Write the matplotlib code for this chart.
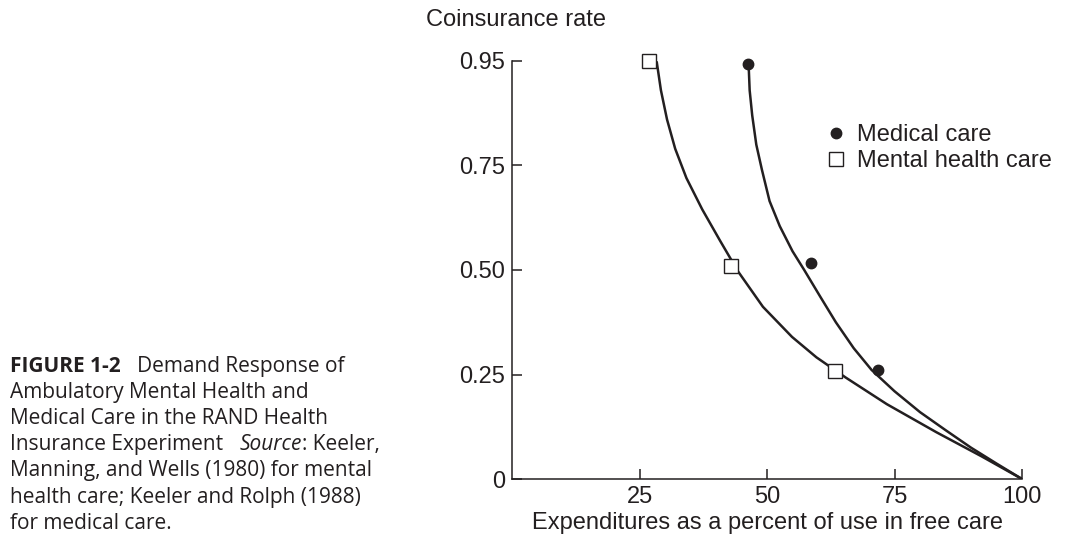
import numpy as np
import matplotlib
matplotlib.use("Agg")
import matplotlib.pyplot as plt

INK = "#231f20"

# observed points (coinsurance rate vs. expenditure as % of free care)
medical_x = [46.2, 58.7, 71.8]
medical_y = [0.944, 0.517, 0.261]
mental_x = [26.9, 42.9, 63.3]
mental_y = [0.95, 0.51, 0.259]

# fitted demand curves
mental_curve_x = [28.4, 29.2, 30.4, 32.0, 34.2, 37.3, 40.8, 44.3, 49.2, 54.9,
                  59.7, 65.4, 73.5, 83.2, 92.1, 100.0]
mental_curve_y = [0.947, 0.894, 0.838, 0.782, 0.720, 0.645, 0.570, 0.497, 0.412, 0.340,
                  0.291, 0.243, 0.179, 0.112, 0.054, 0.0]
medical_curve_x = [46.4, 46.6, 47.1, 47.9, 49.0, 50.5, 52.5, 55.0, 57.3, 60.5,
                   63.5, 67.0, 70.5, 75.0, 80.0, 85.0, 90.0, 95.0, 100.0]
medical_curve_y = [0.942, 0.894, 0.846, 0.790, 0.740, 0.665, 0.605, 0.545, 0.500, 0.435,
                   0.375, 0.313, 0.261, 0.210, 0.160, 0.117, 0.075, 0.037, 0.0]

x_ticks = [25, 50, 75, 100]
y_ticks = [0, 0.25, 0.50, 0.75, 0.95]
y_tick_labels = ["0", "0.25", "0.50", "0.75", "0.95"]

caption_lines = [
    [("FIGURE 1-2", "bold", "normal"), ("   Demand Response of", "normal", "normal")],
    [("Ambulatory Mental Health and", "normal", "normal")],
    [("Medical Care in the RAND Health", "normal", "normal")],
    [("Insurance Experiment   ", "normal", "normal"), ("Source", "normal", "italic"),
     (": Keeler,", "normal", "normal")],
    [("Manning, and Wells (1980) for mental", "normal", "normal")],
    [("health care; Keeler and Rolph (1988)", "normal", "normal")],
    [("for medical care.", "normal", "normal")],
]


# the top tick (0.95) sits one even step above 0.75 in the original
def fwd(y):
    y = np.asarray(y, dtype=float)
    return np.where(y <= 0.75, y, 0.75 + (y - 0.75) * 1.25)


def inv(p):
    p = np.asarray(p, dtype=float)
    return np.where(p <= 0.75, p, 0.75 + (p - 0.75) * 0.8)


plt.rcParams['font.family'] = ['Liberation Sans', 'DejaVu Sans']

W, H = 1067, 534
fig = plt.figure(figsize=(W / 100, H / 100), dpi=100)
ax = fig.add_axes([512 / W, 1 - 479 / H, (1022 - 512) / W, (479 - 61) / H])
ax.set_yscale('function', functions=(fwd, inv))

ax.plot(mental_curve_x, mental_curve_y, color=INK, lw=1.8, zorder=2,
        solid_joinstyle='round')
ax.plot(medical_curve_x, medical_curve_y, color=INK, lw=1.8, zorder=2,
        solid_joinstyle='round')
ax.plot(medical_x, medical_y, 'o', ms=7.5, color=INK, zorder=3, clip_on=False,
        label="Medical care")
ax.plot(mental_x, mental_y, 's', ms=10.5, mfc='white', mec=INK, mew=1.0,
        zorder=3, clip_on=False, label="Mental health care")

ax.set_xlim(0, 100)
ax.set_ylim(0, 0.95)
ax.set_xticks(x_ticks)
ax.set_xticklabels([str(v) for v in x_ticks])
ax.set_yticks(y_ticks)
ax.set_yticklabels(y_tick_labels)
ax.minorticks_off()

for side in ['top', 'right']:
    ax.spines[side].set_visible(False)
for side in ['left', 'bottom']:
    ax.spines[side].set_color(INK)
    ax.spines[side].set_linewidth(1.1)
ax.tick_params(direction='in', length=7.5, width=1.1, color=INK,
               labelsize=17, labelcolor=INK, pad=5)

ax.set_xlabel("Expenditures as a percent of use in free care", fontsize=17,
              color=INK, labelpad=3)
fig.text(426 / W, 1 - 20 / H, "Coinsurance rate", fontsize=17, color=INK,
         ha='left', va='center')

leg = ax.legend(loc='center left', bbox_to_anchor=(827 / W, 1 - 148 / H),
                bbox_transform=fig.transFigure, frameon=False, fontsize=17,
                handlelength=0.8, handletextpad=0.45, labelspacing=0.17,
                borderpad=0, borderaxespad=0)
for t in leg.get_texts():
    t.set_color(INK)

# caption on the left, line by line with mixed styles
for i, pieces in enumerate(caption_lines):
    yb = 1 - (372 + 26.1 * i) / H
    prev = None
    for text, weight, style in pieces:
        kw = dict(fontsize=15, color=INK, family=['Open Sans', 'DejaVu Sans'],
                  fontweight=weight, fontstyle=style, va='baseline', ha='left')
        if prev is None:
            prev = fig.text(10 / W, yb, text, **kw)
        else:
            prev = ax.annotate(text, xy=(1, yb), xycoords=(prev, 'figure fraction'),
                               annotation_clip=False, **kw)

fig.savefig("out.png", dpi=100)
